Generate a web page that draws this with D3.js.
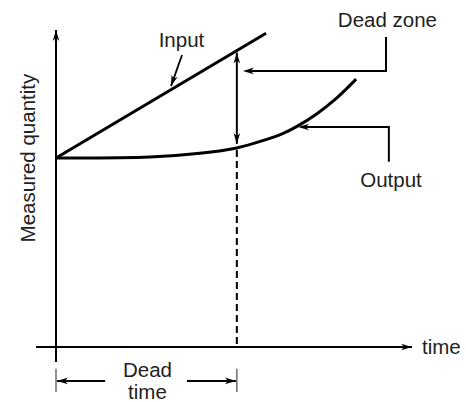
<!DOCTYPE html>
<html>
<head>
<meta charset="utf-8">
<script src="https://cdn.jsdelivr.net/npm/d3@7"></script>
<style>
  html, body { margin: 0; padding: 0; background: #fff; }
  svg { display: block; }
  text { font-family: "Liberation Sans", Arial, sans-serif; font-size: 20.5px; fill: #222; }
</style>
</head>
<body>
<div id="chart"></div>
<script>
// chart data, in data units (time, measured quantity)
const deadTime = 50.8;
const startLevel = 59.6;
const inputT = [0, 59];
const inputY = [59.6, 99];
const outputT = [0, 26.4, 40.4, 50.8, 58.1, 63.8, 67.7, 73.3, 78.9, 84.3];
const outputY = [59.6, 59.9, 61.1, 62.8, 65.1, 67.4, 69.6, 73.6, 78.6, 84.5];
const axisLabels = ["time", "Measured quantity"];
const noteLabels = ["Input", "Dead zone", "Output"];
const deadTimeLabel = ["Dead", "time"];

const width = 466, height = 402;

const svg = d3.select("#chart").append("svg")
    .attr("width", width)
    .attr("height", height);

const x = d3.scaleLinear().domain([0, 100]).range([56, 412]);
const y = d3.scaleLinear().domain([0, 100]).range([347, 30]);

// filled barbed arrowhead at (x2,y2) pointing away from (x1,y1)
function arrowHead(g, x1, y1, x2, y2, len = 11, half = 3.3) {
    const a = Math.atan2(y2 - y1, x2 - x1);
    const pt = (dx, dy) => [x2 + dx * Math.cos(a) - dy * Math.sin(a), y2 + dx * Math.sin(a) + dy * Math.cos(a)];
    g.append("path")
        .attr("d", "M" + [pt(0, 0), pt(-len, half), pt(-len * 0.7, 0), pt(-len, -half)].join("L") + "Z")
        .attr("fill", "#000");
}

function arrowLine(g, p1, p2, w = 2) {
    g.append("line")
        .attr("x1", p1[0]).attr("y1", p1[1])
        .attr("x2", p2[0]).attr("y2", p2[1])
        .attr("stroke", "#000").attr("stroke-width", w);
    arrowHead(g, p1[0], p1[1], p2[0], p2[1]);
}

// axes
const axes = svg.append("g").attr("class", "axes");
arrowLine(axes, [x(-5.6), y(0)], [x(100), y(0)]);
arrowLine(axes, [x(0), y(-4.7)], [x(0), y(100)]);

axes.append("text")
    .attr("x", x(102.8)).attr("y", y(0) + 7)
    .text(axisLabels[0]);

axes.append("text")
    .attr("transform", `translate(${x(0) - 21},${y(startLevel)}) rotate(-90)`)
    .attr("text-anchor", "middle")
    .text(axisLabels[1]);

// input and output responses
const curves = svg.append("g").attr("class", "curves");
curves.append("path")
    .datum(inputT.map((t, i) => [t, inputY[i]]))
    .attr("fill", "none").attr("stroke", "#000").attr("stroke-width", 3)
    .attr("d", d3.line().x(d => x(d[0])).y(d => y(d[1])));

curves.append("path")
    .datum(outputT.map((t, i) => [t, outputY[i]]))
    .attr("fill", "none").attr("stroke", "#000").attr("stroke-width", 3)
    .attr("d", d3.line().x(d => x(d[0])).y(d => y(d[1])).curve(d3.curveCatmullRom.alpha(0.5)));

// dead zone double arrow and dashed drop line
const inputAtDead = inputY[0] + (inputY[1] - inputY[0]) * deadTime / inputT[1];
const outputAtDead = outputY[3];
const dz = svg.append("g").attr("class", "dead-zone");
dz.append("line")
    .attr("x1", x(deadTime)).attr("y1", y(inputAtDead) + 2)
    .attr("x2", x(deadTime)).attr("y2", y(outputAtDead) - 4)
    .attr("stroke", "#000").attr("stroke-width", 2);
arrowHead(dz, x(deadTime), y(60), x(deadTime), y(inputAtDead) + 2);
arrowHead(dz, x(deadTime), y(90), x(deadTime), y(outputAtDead) - 4);

dz.append("line")
    .attr("x1", x(deadTime)).attr("y1", y(outputAtDead) + 2)
    .attr("x2", x(deadTime)).attr("y2", y(0))
    .attr("stroke", "#000").attr("stroke-width", 2)
    .attr("stroke-dasharray", "7,4");

// annotations
const notes = svg.append("g").attr("class", "notes");
notes.append("text")
    .attr("x", x(35.25)).attr("y", y(94.6))
    .attr("text-anchor", "middle").text(noteLabels[0]);
arrowLine(notes, [x(35.4), y(92.1)], [x(32.3), y(82.3)], 1.8);

notes.append("text")
    .attr("x", x(93.1)).attr("y", y(100.9))
    .attr("text-anchor", "middle").text(noteLabels[1]);
notes.append("polyline")
    .attr("points", [[x(92.7), y(97.8)], [x(92.7), y(87.1)], [x(54), y(87.1)]].join(" "))
    .attr("fill", "none").attr("stroke", "#000").attr("stroke-width", 2);
arrowHead(notes, x(60), y(87.1), x(52.5), y(87.1));

notes.append("text")
    .attr("x", x(94.1)).attr("y", y(50.5))
    .attr("text-anchor", "middle").text(noteLabels[2]);
notes.append("polyline")
    .attr("points", [[x(93.5), y(58.4)], [x(93.5), y(69.4)], [x(69.5), y(69.4)]].join(" "))
    .attr("fill", "none").attr("stroke", "#000").attr("stroke-width", 2);
arrowHead(notes, x(75), y(69.4), x(68), y(69.4));

// dead time span below the axis
const dt = svg.append("g").attr("class", "dead-time");
[0, deadTime].forEach(t => {
    dt.append("line")
        .attr("x1", x(t)).attr("y1", y(-6.9))
        .attr("x2", x(t)).attr("y2", y(-14.2))
        .attr("stroke", "#555").attr("stroke-width", 1.3);
});
arrowLine(dt, [x(13.8), y(-10.7)], [x(0) + 1, y(-10.7)]);
arrowLine(dt, [x(36.8), y(-10.7)], [x(deadTime) - 1, y(-10.7)]);
dt.append("text")
    .attr("x", x(25.7)).attr("y", y(-9.5))
    .attr("text-anchor", "middle").text(deadTimeLabel[0]);
dt.append("text")
    .attr("x", x(25.7)).attr("y", y(-16.4))
    .attr("text-anchor", "middle").text(deadTimeLabel[1]);
</script>
</body>
</html>
